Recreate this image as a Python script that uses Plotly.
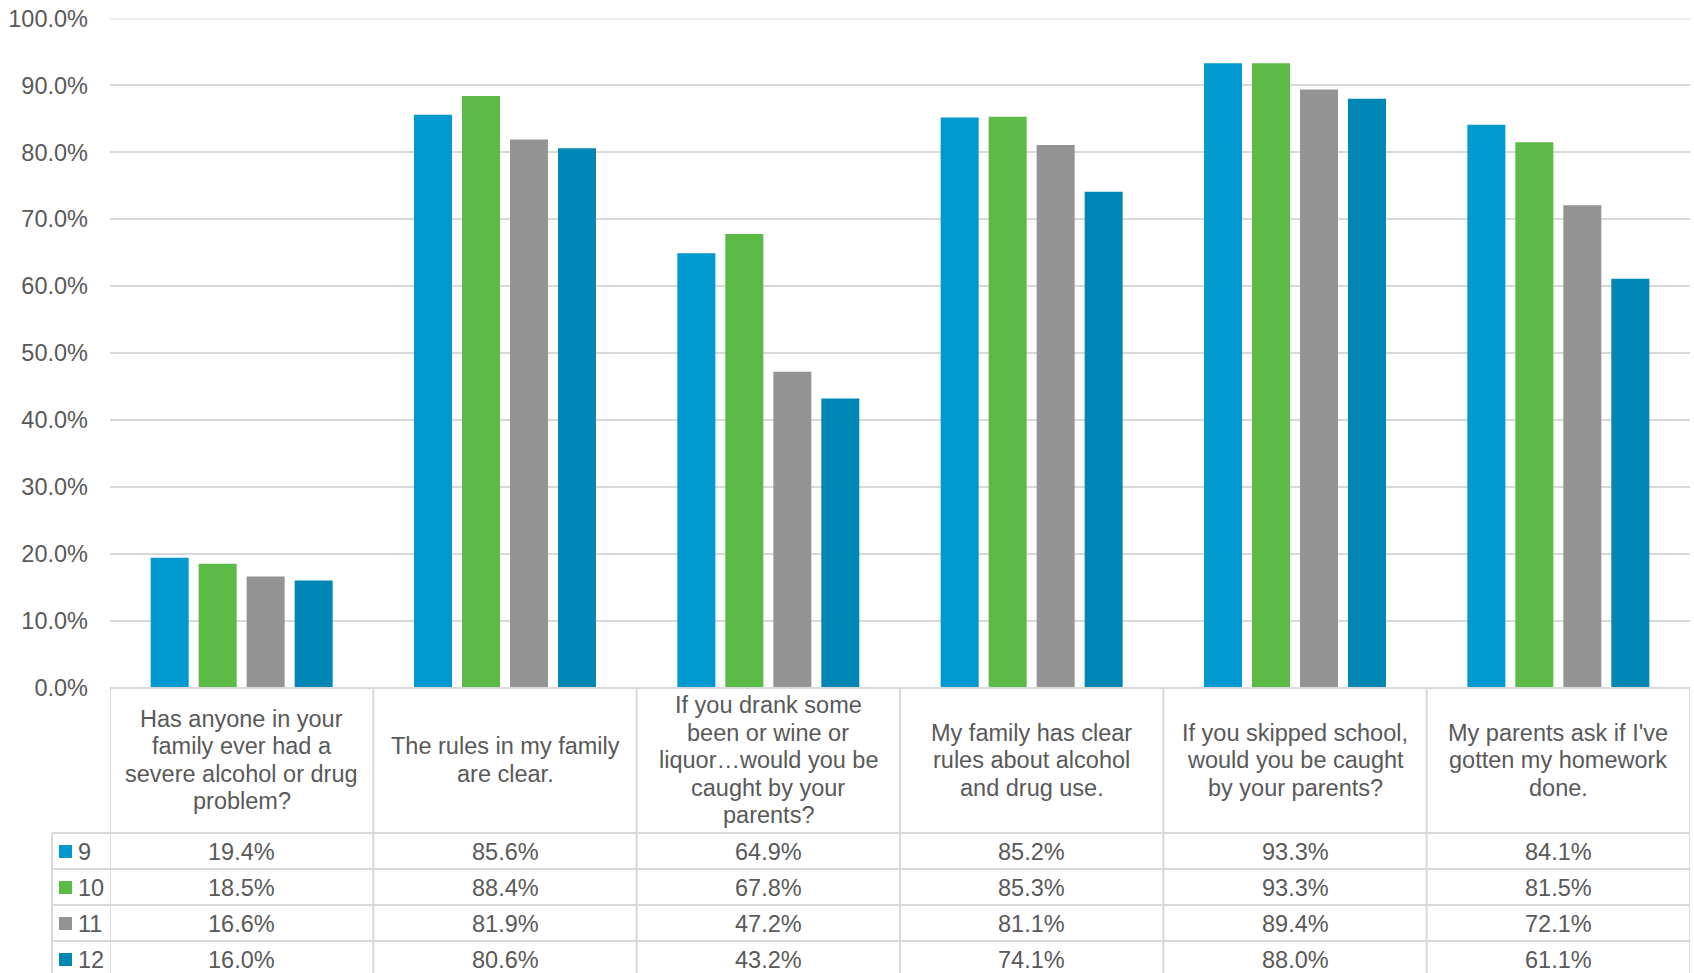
import plotly.graph_objects as go

# ---------------- data ----------------
grades = ["9", "10", "11", "12"]
category_lines = [
    ["Has anyone in your", "family ever had a", "severe alcohol or drug", "problem?"],
    ["The rules in my family", "are clear."],
    ["If you drank some", "been or wine or", "liquor\u2026would you be", "caught by your", "parents?"],
    ["My family has clear", "rules about alcohol", "and drug use."],
    ["If you skipped school,", "would you be caught", "by your parents?"],
    ["My parents ask if I've", "gotten my homework", "done."],
]
categories = [" ".join(l) for l in category_lines]
grade9 = [19.4, 85.6, 64.9, 85.2, 93.3, 84.1]
grade10 = [18.5, 88.4, 67.8, 85.3, 93.3, 81.5]
grade11 = [16.6, 81.9, 47.2, 81.1, 89.4, 72.1]
grade12 = [16.0, 80.6, 43.2, 74.1, 88.0, 61.1]
series = [grade9, grade10, grade11, grade12]
colors = ["#0099D0", "#5CBA47", "#949494", "#0087B6"]
y_max = 100

# ---------------- layout helpers ----------------
W, H = 1694, 973
L, R = 110, 1690
TXT = "#595959"
LINE = "#D9D9D9"
FONT = "Liberation Sans, Arial, sans-serif"
FS = 23.5


def py(y):
    return 1 - y / H


def pxp(x):
    return (x - L) / (R - L)


fig = go.Figure()
xs = list(range(len(categories)))
for name, vals, c in zip(grades, series, colors):
    fig.add_trace(go.Bar(x=xs, y=vals, name=name, marker=dict(color=c, line=dict(width=0)),
                         showlegend=False))

shapes = []
annotations = []

# top gridline (at the range edge)
shapes.append(dict(type="line", xref="paper", yref="y", x0=0, x1=1, y0=y_max, y1=y_max, layer="below",
                   line=dict(color=LINE, width=2)))

TABLE_TOP = 688
HEADER_BOT = 833
ROW_H = 36
rows_y = [HEADER_BOT + ROW_H * k for k in range(5)]
BOTTOM = H + 10
LEG_L = 52

# horizontal lines
shapes.append(dict(type="line", xref="paper", yref="paper", x0=0, x1=1, y0=py(TABLE_TOP), y1=py(TABLE_TOP),
                   line=dict(color=LINE, width=2)))
for yy in rows_y[:4]:
    shapes.append(dict(type="line", xref="paper", yref="paper", x0=pxp(LEG_L), x1=1, y0=py(yy), y1=py(yy),
                       line=dict(color=LINE, width=2)))
# vertical lines
for i in range(len(categories) + 1):
    shapes.append(dict(type="line", xref="x", yref="paper", x0=i - 0.5, x1=i - 0.5,
                       y0=py(TABLE_TOP), y1=py(BOTTOM), line=dict(color=LINE, width=2)))
shapes.append(dict(type="line", xref="paper", yref="paper", x0=pxp(LEG_L), x1=pxp(LEG_L),
                   y0=py(HEADER_BOT), y1=py(BOTTOM), line=dict(color=LINE, width=2)))

# header texts
HDR_C = 760
LSP = 27.5
for i, lines in enumerate(category_lines):
    n = len(lines)
    for k, t in enumerate(lines):
        yc = HDR_C + (k - (n - 1) / 2) * LSP
        annotations.append(dict(x=i, xref="x", y=py(yc), yref="paper", text=t, showarrow=False,
                                xanchor="center", yanchor="middle",
                                font=dict(family=FONT, size=FS, color=TXT)))

# data rows + legend keys
for r, (name, vals, c) in enumerate(zip(grades, series, colors)):
    yc = rows_y[r] + ROW_H / 2 + 0.5
    for i, v in enumerate(vals):
        annotations.append(dict(x=i, xref="x", y=py(yc), yref="paper", text=f"{v:.1f}%", showarrow=False,
                                xanchor="center", yanchor="middle",
                                font=dict(family=FONT, size=FS, color=TXT)))
    shapes.append(dict(type="rect", xref="paper", yref="paper", x0=pxp(59), x1=pxp(72),
                       y0=py(yc - 6.5), y1=py(yc + 6.5), fillcolor=c, line=dict(width=0)))
    annotations.append(dict(x=pxp(76), xref="paper", y=py(yc), yref="paper", text=name, showarrow=False,
                            xanchor="left", yanchor="middle",
                            font=dict(family=FONT, size=FS, color=TXT)))

fig.update_layout(
    width=W, height=H,
    margin=dict(l=L, r=W - R, t=0, b=0, pad=0, autoexpand=False),
    paper_bgcolor="white", plot_bgcolor="white",
    barmode="group", bargap=0.271, bargroupgap=0.208,
    font=dict(family=FONT, size=FS, color=TXT),
    shapes=shapes, annotations=annotations,
    xaxis=dict(range=[-0.5, len(categories) - 0.5], showticklabels=False, showgrid=False,
               zeroline=False, showline=False, ticks="", automargin=False),
    yaxis=dict(domain=[py(687.5), py(18.5)], range=[0, y_max], dtick=10, tickformat=".1f", ticksuffix="%",
               showgrid=True, gridcolor=LINE, gridwidth=2, zeroline=False, showline=False,
               ticks="", ticklabelstandoff=21, automargin=False,
               tickfont=dict(family=FONT, size=FS, color=TXT)),
)

fig.write_html("out.html", config={"displayModeBar": False},
               post_script="document.body.style.margin='0px';")
